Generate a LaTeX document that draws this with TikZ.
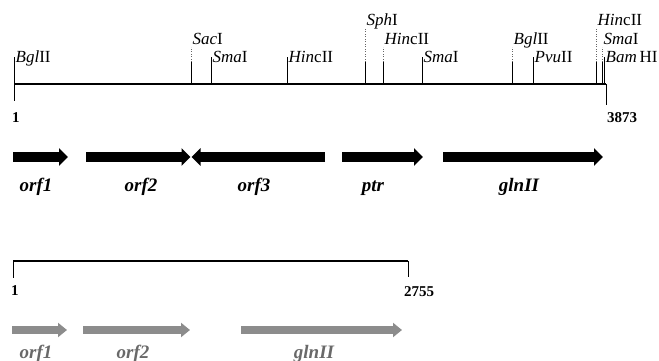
\documentclass[tikz,border=0pt]{standalone}
\usepackage{fontspec}
\setmainfont{Liberation Serif}
\usetikzlibrary{arrows.meta}
\definecolor{arrgray}{RGB}{140,140,140}
\definecolor{labgray}{RGB}{105,105,105}
\begin{document}
\begin{tikzpicture}[x=1pt,y=-1pt,
  mapline/.style={line width=1.4pt,black},
  tick/.style={line width=0.7pt,black},
  dottick/.style={line width=0.5pt,black!60,dotted},
  site/.style={anchor=base west,inner sep=0pt,font=\fontsize{17}{17}\selectfont},
  numlab/.style={anchor=base west,inner sep=0pt,font=\fontsize{15}{15}\selectfont\bfseries},
  gene/.style={line width=10pt,black,-{Triangle[length=9pt,width=17pt]}},
  genegray/.style={line width=8pt,arrgray,-{Triangle[length=9pt,width=14pt]}},
  genelab/.style={anchor=base,inner sep=0pt,font=\fontsize{19}{19}\selectfont\bfseries\itshape},
  genelabgray/.style={genelab,text=labgray}]
\useasboundingbox (0,0) rectangle (659,361);
% ---- map 1
\coordinate (L1) at (14,84);
\coordinate (R1) at (606,84);
\draw[mapline] (L1) -- (R1);
\coordinate (L1b) at (14,101);
\coordinate (R1b) at (606,105);
\draw[tick] (L1) -- (L1b);
\draw[tick] (R1) -- (R1b);
\node[numlab] (n1) at (12,122) {1};
\node[numlab] (n3873) at (607,122) {3873};
% row A (baseline 63)
\foreach \x/\nm/\lab in {14/bgla/{\textit{Bgl}II},211/smaa/{\textit{Sma}I},287/hinca/{\textit{Hin}cII},422/smab/{\textit{Sma}I},533/pvu/{\textit{Pvu}II},604/bam/{\textit{Bam}\,HI}}{
  \coordinate (t\nm) at (\x,57);
  \draw[tick] (\x,84) -- (t\nm);
  \node[site] (s\nm) at (\x+1.5,63) {\lab};
}
% row B (baseline 45)
\foreach \x/\nm/\lab in {191/sac/{\textit{Sac}I},383/hincb/{\textit{Hin}cII},512/bglb/{\textit{Bgl}II},602/smac/{\textit{Sma}I}}{
  \coordinate (t\nm) at (\x,62);
  \draw[tick] (\x,84) -- (t\nm);
  \draw[dottick] (t\nm) -- (\x,47);
  \node[site] (s\nm) at (\x+1.5,45) {\lab};
}
% row C (baseline 26)
\foreach \x/\nm/\lab in {365/sph/{\textit{Sph}I},596/hincc/{\textit{Hin}cII}}{
  \coordinate (t\nm) at (\x,62);
  \draw[tick] (\x,84) -- (t\nm);
  \draw[dottick] (t\nm) -- (\x,28);
  \node[site] (s\nm) at (\x+1.5,26) {\lab};
}
% genes row 1
\draw[gene] (13,157) -- (68,157);
\draw[gene] (86,157) -- (190.5,157);
\draw[gene] (325,157) -- (191.5,157);
\draw[gene] (342,157) -- (423,157);
\draw[gene] (443,157) -- (603,157);
\node[genelab] (orf1) at (36,191) {orf1};
\node[genelab] (orf2) at (141,191) {orf2};
\node[genelab] (orf3) at (254,191) {orf3};
\node[genelab] (ptr) at (373,191) {ptr};
\node[genelab] (gln) at (519,191) {glnII};
% ---- map 2
\coordinate (L2) at (13,261);
\coordinate (R2) at (408,261);
\draw[mapline] (L2) -- (R2);
\coordinate (L2b) at (13,278);
\coordinate (R2b) at (408,277);
\draw[tick] (L2) -- (L2b);
\draw[tick] (R2) -- (R2b);
\node[numlab] (m1) at (11,295) {1};
\node[numlab] (m2755) at (404,296) {2755};
\draw[genegray] (12,330) -- (67,330);
\draw[genegray] (83,330) -- (190,330);
\draw[genegray] (241,330) -- (402,330);
\node[genelabgray] (gorf1) at (36,358) {orf1};
\node[genelabgray] (gorf2) at (133,358) {orf2};
\node[genelabgray] (ggln) at (314,358) {glnII};
\end{tikzpicture}
\end{document}
